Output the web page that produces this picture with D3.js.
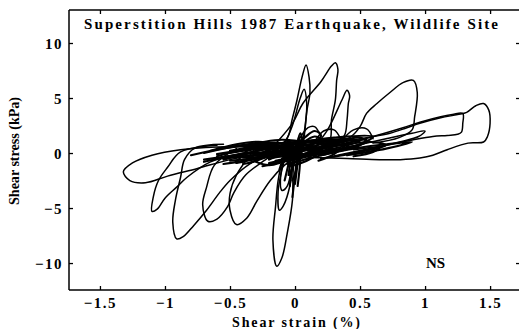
<!DOCTYPE html>
<html>
<head>
<meta charset="utf-8">
<script src="https://cdn.jsdelivr.net/npm/d3@7"></script>
<style>
  body { margin: 0; background: #fff; }
  svg { display: block; }
</style>
</head>
<body>
<div id="chart"></div>
<script>
const width = 519;
const height = 329;
const margin = { top: 10, right: -1, bottom: 39, left: 69 };

const titleText = "Superstition Hills 1987  Earthquake, Wildlife Site";
const componentLabel = "NS";
const xLabel = "Shear strain (%)";
const yLabel = "Shear stress (kPa)";
const xTicks = [-1.5, -1, -0.5, 0, 0.5, 1, 1.5];
const xTickLabels = ["\u22121.5", "\u22121", "\u22120.5", "0", "0.5", "1", "1.5"];
const yTicks = [-10, -5, 0, 5, 10];
const yTickLabels = ["\u221210", "\u22125", "0", "5", "10"];

// large loops, [strain %, stress kPa]
const loopLeftWide = [[-0.35,0.6],[-0.6,0.55],[-0.88,0.3],[-1.1,-0.2],[-1.25,-0.9],[-1.32,-1.7],[-1.27,-2.5],[-1.15,-2.7],[-0.98,-2.1],[-0.75,-1.4],[-0.5,-0.6],[-0.2,0.1]];
const loopLeftV = [[-0.6,0.7],[-0.88,0.1],[-0.98,-1.3],[-1.05,-2.5],[-1.09,-4.0],[-1.1,-5.3],[-1.06,-5.1],[-1.0,-4.1],[-0.91,-3.1],[-0.83,-2.2],[-0.65,-0.8],[-0.4,0.0]];
const loopLeftDeep = [[-0.55,0.8],[-0.77,0.45],[-0.85,-0.6],[-0.88,-2.2],[-0.92,-4.3],[-0.94,-6.3],[-0.91,-7.8],[-0.86,-7.6],[-0.78,-6.6],[-0.68,-5.2],[-0.58,-3.6],[-0.5,-2.5],[-0.35,-1.0],[-0.15,0.1]];
const loopMidA = [[-0.45,0.4],[-0.62,-1.1],[-0.68,-3.1],[-0.71,-4.7],[-0.67,-6.2],[-0.6,-6.0],[-0.52,-4.9],[-0.47,-3.6],[-0.38,-2.0],[-0.2,-0.4]];
const loopMidB = [[-0.3,0.5],[-0.45,-2.0],[-0.5,-3.7],[-0.5,-5.2],[-0.45,-6.5],[-0.37,-5.9],[-0.29,-4.3],[-0.19,-2.5],[-0.08,-1.1],[0.05,0.0]];
const loopDown = [[-0.05,0.3],[-0.1,-0.9],[-0.13,-2.5],[-0.15,-4.9],[-0.17,-7.9],[-0.14,-10.3],[-0.1,-9.5],[-0.06,-7.3],[-0.02,-4.3],[-0.015,-1.8],[0.0,0.2]];
const loopDownIn1 = [[-0.06,0.2],[-0.1,-1.5],[-0.13,-3.5],[-0.12,-5.2],[-0.09,-4.8],[-0.04,-3.0],[-0.02,-1.0]];
const loopDownIn2 = [[-0.07,0.0],[-0.11,-2.0],[-0.1,-3.4],[-0.06,-3.0],[-0.03,-1.5]];
const peakA = [[-0.15,0.1],[-0.054,1.5],[-0.023,3.0],[0.015,4.8],[0.054,6.9],[0.085,8.0],[0.108,6.9],[0.115,5.5],[0.092,3.9],[0.077,2.4],[0.062,1.2],[0.05,0.0]];
const peakA2 = [[-0.1,0.3],[-0.02,2.5],[0.04,5.0],[0.07,5.8],[0.09,4.5],[0.08,2.5],[0.06,0.5]];
const peakB = [[-0.2,0.2],[-0.02,2.7],[0.06,4.5],[0.2,6.5],[0.28,7.9],[0.31,8.2],[0.33,7.6],[0.32,6.6],[0.31,4.8],[0.28,3.0],[0.27,1.2],[0.2,0.3]];
const peakC = [[0.05,0.4],[0.19,1.2],[0.25,2.1],[0.36,4.8],[0.4,5.7],[0.42,5.2],[0.41,4.5],[0.4,3.0],[0.38,1.6],[0.3,0.8]];
const peakD = [[0.2,0.6],[0.42,1.4],[0.5,2.4],[0.55,3.6],[0.63,4.5],[0.73,5.5],[0.83,6.4],[0.91,6.6],[0.94,5.5],[0.92,3.3],[0.9,2.1],[0.8,1.4],[0.6,0.9]];
const loopRightE = [[0.3,0.9],[0.55,1.4],[0.73,1.8],[0.86,2.3],[0.96,2.7],[1.12,3.2],[1.25,3.5],[1.32,3.7],[1.39,4.3],[1.45,4.5],[1.49,3.9],[1.5,2.7],[1.48,1.5],[1.45,1.0],[1.33,0.9],[1.17,0.3],[1.06,-0.2],[0.96,-0.45],[0.81,-0.6],[0.65,-0.6],[0.4,-0.5],[0.1,-0.4]];
const loopRightF = [[0.35,0.7],[0.6,1.5],[0.83,2.3],[0.96,2.8],[1.12,3.3],[1.21,3.5],[1.29,3.6],[1.29,2.7],[1.28,1.9],[1.25,1.7],[1.17,1.6],[1.06,1.5],[0.91,1.2],[0.7,0.7],[0.45,0.3]];
const loopRightG = [[0.4,0.5],[0.7,1.3],[0.9,1.8],[1.0,2.0],[0.95,1.5],[0.8,1.0],[0.6,0.4]];
const domeA = [[0.02,1.0],[0.1,2.3],[0.15,2.4],[0.2,1.5]];
const domeB = [[0.35,1.0],[0.45,2.1],[0.55,2.2],[0.6,1.3]];
const domeC = [[0.15,1.0],[0.22,2.0],[0.3,2.1],[0.35,1.3]];

// dense small cycles round the origin
const core = [
  [[-0.6,-0.3],[-0.3,0.6],[0.1,1.1],[0.4,1.2],[0.2,0.5],[-0.2,-0.3],[-0.5,-0.7]],
  [[-0.5,0.2],[-0.2,0.8],[0.2,1.0],[0.5,1.1],[0.3,0.4],[0.0,-0.2],[-0.4,-0.4]],
  [[-0.4,-0.8],[-0.1,0.3],[0.2,0.9],[0.3,0.7],[0.1,-0.3],[-0.2,-1.0]],
  [[-0.7,0.0],[-0.4,0.7],[-0.1,0.9],[0.0,0.4],[-0.3,-0.2],[-0.6,-0.5]],
  [[-0.3,0.2],[0.0,0.9],[0.3,1.4],[0.6,1.5],[0.5,0.8],[0.2,0.0],[-0.1,-0.5]],
  [[-0.2,-0.6],[0.0,0.5],[0.15,1.5],[0.2,1.2],[0.1,0.0],[-0.05,-1.2]],
  [[-0.05,-2.0],[-0.03,-0.5],[0.0,1.0],[0.03,0.5],[0.01,-1.5],[-0.02,-2.5]],
  [[-0.04,-3.0],[-0.02,-1.0],[0.01,0.8],[0.02,-0.5],[0.0,-2.8]],
  [[-0.8,-0.2],[-0.5,0.5],[-0.2,0.7],[-0.1,0.3],[-0.4,-0.1],[-0.7,-0.6]],
  [[0.0,-0.3],[0.3,0.6],[0.6,1.0],[0.7,0.7],[0.5,0.1],[0.2,-0.5]],
  [[-0.45,-0.3],[-0.25,0.3],[-0.05,0.6],[0.1,0.4],[-0.1,-0.1],[-0.35,-0.6]],
  [[-0.25,-0.4],[-0.1,0.2],[0.1,0.7],[0.2,0.3],[0.05,-0.2],[-0.15,-0.7]],
  [[-0.6,0.4],[-0.3,0.9],[-0.1,1.2],[0.05,1.0],[-0.2,0.5],[-0.5,0.1]],
  [[0.1,0.2],[0.35,0.8],[0.55,1.2],[0.5,0.7],[0.3,0.1],[0.05,-0.3]],
  [[-0.15,0.0],[0.05,1.2],[0.15,2.0],[0.2,1.6],[0.12,0.6],[-0.05,-0.4]],
  [[-0.3,-0.2],[-0.15,0.4],[0.0,0.3],[-0.05,-0.4],[-0.2,-0.9]],
  [[0.2,-0.2],[0.45,0.4],[0.7,0.8],[0.9,1.0],[0.7,0.4],[0.4,-0.2]],
  [[-0.12,-1.5],[-0.08,0.0],[-0.05,1.2],[-0.03,0.5],[-0.06,-1.0]],
  [[-0.7,-0.8],[-0.5,-0.3],[-0.3,0.1],[-0.35,-0.5],[-0.55,-1.0]],
  [[0.0,0.0],[0.2,0.8],[0.35,1.0],[0.4,0.6],[0.25,0.2]],
  [[-0.35,-0.9],[-0.15,-0.1],[0.05,0.5],[0.15,0.2],[-0.05,-0.6],[-0.25,-1.2]],
  [[-0.55,-0.6],[-0.35,0.0],[-0.15,0.5],[-0.05,0.2],[-0.25,-0.4],[-0.45,-0.9]],
  [[-0.2,0.3],[0.05,0.9],[0.3,1.2],[0.45,1.3],[0.3,0.8],[0.05,0.3],[-0.15,-0.1]],
  [[-0.02,-4.0],[0.0,-2.0],[0.02,0.0],[0.03,1.5],[0.04,-0.5],[0.02,-3.0]],
  [[-0.03,-1.2],[0.0,0.0],[0.04,1.8],[0.06,0.8],[0.03,-0.6]],
  [[-0.5,0.0],[-0.25,0.5],[0.0,0.8],[0.1,0.6],[-0.1,0.1],[-0.4,-0.3]],
  [[-0.1,-0.8],[0.1,0.0],[0.25,0.5],[0.3,0.2],[0.1,-0.5],[-0.05,-1.0]],
  [[0.15,0.4],[0.35,1.1],[0.5,1.4],[0.55,1.0],[0.4,0.5],[0.2,0.0]],
  [[-0.65,0.2],[-0.45,0.8],[-0.25,1.0],[-0.2,0.7],[-0.4,0.3],[-0.6,-0.1]],
  [[-0.25,-0.2],[-0.1,0.5],[0.05,0.9],[0.1,0.6],[0.0,0.0],[-0.2,-0.5]],
  [[0.3,-0.3],[0.5,0.2],[0.65,0.5],[0.6,0.1],[0.45,-0.3]],
  [[-0.08,-2.5],[-0.05,-1.0],[-0.02,0.5],[0.0,-0.5],[-0.04,-2.0]],
  [[-0.3,-0.8],[-0.2,0.4],[-0.05,1.0],[0.05,0.6],[-0.05,-0.5],[-0.2,-1.1],[-0.3,-0.8]],
  [[-0.1,-1.0],[0.0,0.3],[0.12,1.1],[0.22,0.8],[0.15,-0.3],[0.0,-1.1]],
  [[-0.45,-0.9],[-0.38,0.1],[-0.28,0.6],[-0.2,0.2],[-0.28,-0.6],[-0.4,-1.0]],
  [[0.1,-0.6],[0.18,0.4],[0.3,1.1],[0.38,0.8],[0.3,-0.1],[0.18,-0.7]]
];

const bigLoops = [loopLeftWide, loopLeftV, loopLeftDeep, loopMidA, loopMidB, loopDown, loopDownIn1, loopDownIn2,
  peakA, peakA2, peakB, peakC, peakD, loopRightE, loopRightF, loopRightG, domeA, domeB, domeC];

const svg = d3.select("#chart")
  .append("svg")
  .attr("width", width)
  .attr("height", height);

const x = d3.scaleLinear()
  .domain([-1.738, 1.73])
  .range([margin.left, width - margin.right]);

const y = d3.scaleLinear()
  .domain([-12.45, 13])
  .range([height - margin.bottom, margin.top]);

const serif = "'Liberation Serif', 'DejaVu Serif', serif";

// traces
const line = d3.line()
  .x(d => x(d[0]))
  .y(d => y(d[1]))
  .curve(d3.curveCatmullRom.alpha(0.5));

const traces = svg.append("g")
  .attr("fill", "none")
  .attr("stroke", "#000")
  .attr("stroke-linejoin", "round")
  .attr("stroke-linecap", "round");

traces.selectAll("path.core")
  .data(core)
  .enter().append("path")
  .attr("class", "core")
  .attr("stroke-width", 2.1)
  .attr("d", line);

traces.selectAll("path.big")
  .data(bigLoops)
  .enter().append("path")
  .attr("class", "big")
  .attr("stroke-width", 1.5)
  .attr("d", line);

// frame and axes
const axisG = svg.append("g").attr("stroke", "#000").attr("stroke-width", 1.5);
axisG.append("line")
  .attr("x1", x.range()[0]).attr("x2", x.range()[0])
  .attr("y1", y.range()[1]).attr("y2", y.range()[0]);
axisG.append("line")
  .attr("x1", x.range()[0]).attr("x2", x.range()[1])
  .attr("y1", y.range()[0]).attr("y2", y.range()[0]);
axisG.append("line")
  .attr("x1", x.range()[0]).attr("x2", x.range()[1])
  .attr("y1", y.range()[1]).attr("y2", y.range()[1]);

const bottomAxis = svg.append("g")
  .attr("transform", `translate(0,${y.range()[0]})`)
  .call(d3.axisBottom(x).tickValues(xTicks).tickSizeInner(-4).tickSizeOuter(0).tickFormat((d, i) => xTickLabels[i]));
const topAxis = svg.append("g")
  .attr("transform", `translate(0,${y.range()[1]})`)
  .call(d3.axisTop(x).tickValues(xTicks).tickSizeInner(-4).tickSizeOuter(0).tickFormat(""));
const leftAxis = svg.append("g")
  .attr("transform", `translate(${x.range()[0]},0)`)
  .call(d3.axisLeft(y).tickValues(yTicks).tickSizeInner(-4).tickSizeOuter(0).tickFormat((d, i) => yTickLabels[i]));
const rightAxis = svg.append("g")
  .attr("transform", `translate(${x.range()[1]},0)`)
  .call(d3.axisRight(y).tickValues(yTicks).tickSizeInner(-4).tickSizeOuter(0).tickFormat(""));

[bottomAxis, topAxis, leftAxis, rightAxis].forEach(g => {
  g.select(".domain").remove();
  g.selectAll(".tick line").attr("stroke", "#000").attr("stroke-width", 1.3);
});

bottomAxis.selectAll(".tick text")
  .attr("y", 7)
  .attr("dy", "0.71em")
  .style("font-family", serif)
  .style("font-size", "15px")
  .style("font-weight", "bold")
  .style("letter-spacing", "1.5px")
  .style("fill", "#000");

leftAxis.selectAll(".tick text")
  .attr("x", -6)
  .attr("dy", "0.35em")
  .style("font-family", serif)
  .style("font-size", "15px")
  .style("font-weight", "bold")
  .style("letter-spacing", "1.5px")
  .style("fill", "#000");

// labels
svg.append("text")
  .attr("x", 84)
  .attr("y", 29)
  .attr("textLength", 414)
  .attr("lengthAdjust", "spacing")
  .style("font-family", serif)
  .style("font-size", "15px")
  .style("font-weight", "bold")
  .text(titleText);

svg.append("text")
  .attr("x", 426)
  .attr("y", 268)
  .style("font-family", serif)
  .style("font-size", "15px")
  .style("font-weight", "bold")
  .text(componentLabel);

svg.append("text")
  .attr("x", 296)
  .attr("y", 327)
  .attr("text-anchor", "middle")
  .attr("textLength", 128)
  .attr("lengthAdjust", "spacing")
  .style("font-family", serif)
  .style("font-size", "14px")
  .style("font-weight", "bold")
  .text(xLabel);

svg.append("text")
  .attr("transform", "translate(19,151) rotate(-90)")
  .attr("text-anchor", "middle")
  .attr("textLength", 108)
  .attr("lengthAdjust", "spacingAndGlyphs")
  .style("font-family", serif)
  .style("font-size", "14px")
  .style("font-weight", "bold")
  .text(yLabel);
</script>
</body>
</html>
